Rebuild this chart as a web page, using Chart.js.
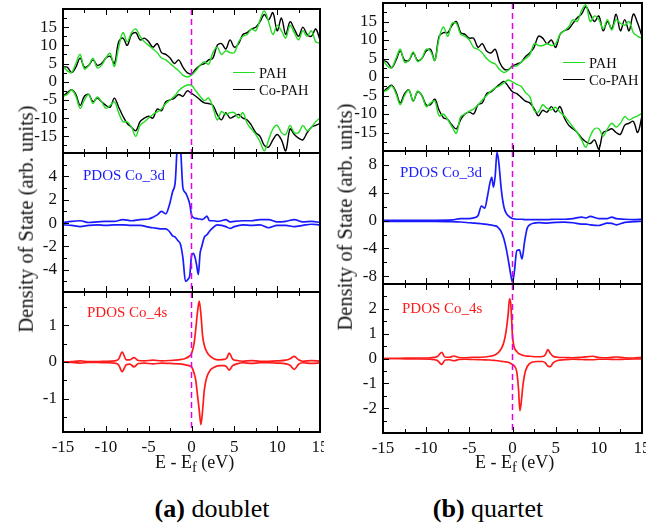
<!DOCTYPE html>
<html>
<head>
<meta charset="utf-8">
<script src="https://cdn.jsdelivr.net/npm/chart.js@4.4.0/dist/chart.umd.min.js"></script>
<style>
body { margin: 0; background: #fff; width: 661px; height: 529px; position: relative; overflow: hidden; font-family: 'Liberation Serif', 'Times New Roman', serif; }
canvas { position: absolute; }
.t { position: absolute; white-space: nowrap; line-height: 1; transform: translateY(-50%); color: #111; }
.rot { position: absolute; white-space: nowrap; line-height: 1; font-size: 20.5px; color: #111; transform: translate(-50%, -50%) rotate(-90deg); }
.ln { position: absolute; height: 0; }
.cap { position: absolute; white-space: nowrap; font-size: 26px; transform: translate(-50%, -50%); color: #000; }
sub { font-size: 0.8em; vertical-align: -0.3em; line-height: 0; }
</style>
</head>
<body>
<canvas id="a1" width="324" height="148" style="left:0;top:7px"></canvas>
<canvas id="a2" width="324" height="143" style="left:0;top:151px"></canvas>
<canvas id="a3" width="324" height="166" style="left:0;top:290px"></canvas>
<canvas id="b1" width="326" height="152" style="left:320px;top:1px"></canvas>
<canvas id="b2" width="326" height="137" style="left:320px;top:149px"></canvas>
<canvas id="b3" width="326" height="175" style="left:320px;top:282px"></canvas>

<div class="rot" style="left:26px;top:219px">Density of State (arb. units)</div>
<div class="rot" style="left:345px;top:217px">Density of State (arb. units)</div>

<div class="ln" style="left:233px;top:72px;width:22px;border-top:1.5px solid #22dd22"></div>
<div class="t" style="left:259px;top:73px;font-size:14.5px">PAH</div>
<div class="ln" style="left:233px;top:89px;width:22px;border-top:1.5px solid #000"></div>
<div class="t" style="left:259px;top:90px;font-size:14.5px">Co-PAH</div>
<div class="ln" style="left:563px;top:62px;width:22px;border-top:1.5px solid #22dd22"></div>
<div class="t" style="left:589px;top:63px;font-size:14.5px">PAH</div>
<div class="ln" style="left:563px;top:79px;width:22px;border-top:1.5px solid #000"></div>
<div class="t" style="left:589px;top:80px;font-size:14.5px">Co-PAH</div>

<div class="t" style="left:83px;top:175px;font-size:15px;color:#1a1aff">PDOS Co_3d</div>
<div class="t" style="left:400px;top:172px;font-size:15px;color:#1a1aff">PDOS Co_3d</div>
<div class="t" style="left:87px;top:312px;font-size:15px;color:#ff1a1a">PDOS Co_4s</div>
<div class="t" style="left:402px;top:308px;font-size:15px;color:#ff1a1a">PDOS Co_4s</div>

<div class="t" style="left:155px;top:462px;font-size:18px">E - E<sub>f</sub> (eV)</div>
<div class="t" style="left:475px;top:462px;font-size:18px">E - E<sub>f</sub> (eV)</div>

<div class="cap" style="left:212px;top:509px"><b>(a)</b> doublet</div>
<div class="cap" style="left:488px;top:509px"><b>(b)</b> quartet</div>

<script>
// energy axis (eV)
const xTicks = [-15, -10, -5, 0, 5, 10, 15];

// total DOS grid
const eTot = [-15,-14.5,-14,-13.5,-13,-12.5,-12,-11.5,-11,-10.5,-10,-9.5,-9,-8.5,-8,-7.5,-7,-6.5,-6,-5.5,-5,-4.5,-4,-3.5,-3,-2.5,-2,-1.5,-1,-0.5,0,0.5,1,1.5,2,2.5,3,3.5,4,4.5,5,5.5,6,6.5,7,7.5,8,8.5,9,9.5,10,10.5,11,11.5,12,12.5,13,13.5,14,14.5,15];

// (a) doublet - total DOS
const pahUpA = [4.2,3.0,2.5,5,7.5,3.5,4.5,6.5,3.8,4.5,6.5,7.8,4.2,9.5,13.5,11,13.5,14.5,12.5,11,10,9,8,6.5,6.0,5,4,3,1.8,1.3,1.8,3,4.5,5.5,4.8,8,9.5,7.5,8.5,8,8,11,12.5,13,14.5,14,17,19.5,16.5,13,15.5,14,12,15.5,13.5,11.5,14,12.5,14,11,10.6];
const coUpA = [4,4,2.5,4,6.5,4,4.5,6,4.5,5,6.5,7,5,11,12,10,13,13.5,11.5,12,11,9.5,10.5,8,7.5,6.5,5,6,4,2.5,2.2,3.5,4.5,5,6,6.5,10,10.5,9,11.5,9.5,10.5,13,13.5,14.5,15,16.5,18.5,17,19,14,17.5,13,16.5,14.5,12.5,15,13,12.5,14.5,11.5];
const pahDnA = [-4,-3.5,-2.2,-4,-7.3,-5,-3.5,-6,-4.2,-5.5,-7.3,-6.5,-5.5,-8.5,-11,-11,-12.5,-15,-12,-11,-10,-9,-8.3,-7.5,-6,-5,-4,-2.5,-1.5,-0.9,-1,-2.5,-4,-5.2,-4.5,-7,-10.5,-8.2,-9,-8.5,-8.5,-10,-8.5,-11.5,-13,-14.5,-16.5,-19,-16,-13,-12,-14,-14.5,-12,-14,-14,-12,-13.5,-12.5,-11,-10];
const coDnA = [-4,-3,-2.2,-3.5,-6.5,-4,-3.5,-5.5,-4.5,-5.5,-6.5,-7,-4.5,-7,-9.5,-11.5,-12.5,-13.5,-11,-10,-9.5,-10,-7.5,-8,-5.5,-5,-4.5,-3.5,-4,-2.5,-3.2,-4,-5,-5.8,-6,-6.5,-9,-10.5,-8.5,-10,-9.5,-9,-10,-10.5,-12,-14,-15,-17.5,-18,-16,-14.5,-16,-19,-13,-14.5,-15.5,-16,-14,-12.5,-12,-11.5];

// (b) quartet - total DOS
const pahUpB = [4.6,3,2.5,5,7.5,4,4.5,6.8,4.2,5,7.5,7,4.5,10.5,13.5,11,14.5,14.5,11.5,11,10,8,7.5,6.5,5,4,3.5,2,1.2,1.8,2.8,3,4,5,6,9,8.5,8.5,9,8.5,9,11.5,12.5,13.5,15.5,15,18,19.5,15,16.5,15.5,13,15.5,12.7,15.5,14.5,14,15,12,11,10.5];
const coUpB = [4.5,4,2.5,4.5,7,4.5,4.5,6.5,4.5,5,7,7.5,4.5,11,12,12,14,15,12,11.5,10.5,10.5,8,9,7,6.5,7.5,4,2.2,2,3,3.5,4,5.5,6.5,8,11,10.5,9,10,8,11.5,12.5,13,14.5,16,17,19,17,15,16.5,12.5,15,13,17,12.5,15.5,12.5,17,14.5,11];
const pahDnB = [-4,-3.5,-2.4,-4.5,-7.5,-5,-3.5,-6.6,-3.8,-5,-8,-7,-6.5,-10.5,-10,-11.5,-13.5,-15.2,-10.7,-10,-9.2,-8.7,-7.5,-6.2,-5,-3.8,-3,-2.4,-1.6,-0.8,-1.3,-2,-2.5,-4.2,-5.3,-9,-9.5,-7.5,-8.5,-8.9,-8.2,-9.5,-10.5,-12,-13.5,-15,-17,-19,-16,-14,-14,-16,-14,-12.5,-13.5,-12.5,-10.7,-11.6,-11,-10.5,-9.8];
const coDnB = [-4,-3,-2.2,-4,-7,-4.5,-3.5,-6.5,-4,-5,-7.5,-7.5,-6,-9,-11,-11.5,-13,-14,-11.5,-10,-9.5,-10,-7.5,-7,-4.5,-4,-3,-2,-1.2,-2.5,-4,-4.5,-5.5,-6.5,-7,-8.5,-10.5,-9,-9.5,-8,-9.5,-8,-11,-13,-14,-15,-16.5,-17.5,-18,-17,-19.5,-15,-14.5,-14,-15,-15.5,-13,-12.5,-12,-15,-10.5];

// (a) doublet - Co 3d
const eA3d = [-15,-14,-13,-12,-11,-10,-9,-8,-7,-6,-5,-4.5,-4,-3.5,-3,-2.6,-2.2,-1.9,-1.6,-1.3,-1,-0.7,-0.4,-0.2,0,0.2,0.4,0.6,0.8,1,1.2,1.5,1.8,2.1,2.5,3,3.5,4,4.5,5,6,7,8,9,10,11,12,13,14,15];
const up3dA = [0.05,0.15,0.2,0.05,0.1,0.15,0.15,0.3,0.2,0.3,0.35,0.5,0.7,1.0,0.8,1.5,2.7,3.5,7.0,6.5,3.0,2.6,2.1,1.6,0.7,0.5,0.4,0.4,0.35,0.35,0.3,0.4,0.6,0.2,0.2,0.15,0.2,0.3,0.1,0.15,0.2,0.2,0.3,0.3,0.1,0.15,0.3,0.1,0.15,0.05];
const dn3dA = [-0.15,-0.2,-0.3,-0.2,-0.15,-0.2,-0.15,-0.15,-0.2,-0.2,-0.35,-0.4,-0.45,-0.5,-0.5,-0.7,-1.1,-1.2,-1.5,-1.8,-3.0,-5.0,-4.8,-4.5,-2.8,-2.6,-2.9,-3.6,-4.4,-2.6,-2.0,-1.2,-1.0,-0.7,-0.4,-0.15,-0.2,-0.3,-0.45,-0.3,-0.15,-0.2,-0.15,-0.4,-0.2,-0.2,-0.3,-0.2,-0.1,-0.15];

// (b) quartet - Co 3d
const eB3d = [-15,-13,-11,-9,-7,-6,-5,-4.5,-4,-3.6,-3.2,-2.9,-2.6,-2.4,-2.2,-2.0,-1.8,-1.6,-1.3,-1,-0.7,-0.4,-0.2,0,0.2,0.5,0.8,1.1,1.4,1.7,2,2.5,3,4,5,6,7,8,8.5,9,10,11,11.5,12,13,14,15];
const up3dB = [0.05,0.05,0.05,0.05,0.1,0.3,0.3,0.4,0.7,2.1,1.8,3.5,5.5,6.2,4.8,6.5,9.8,8.5,4.5,2.0,1.0,0.6,0.4,0.3,0.25,0.2,0.2,0.2,0.15,0.15,0.15,0.15,0.15,0.15,0.2,0.2,0.3,0.5,0.4,0.6,0.3,0.3,0.5,0.3,0.2,0.15,0.2];
const dn3dB = [-0.1,-0.1,-0.1,-0.1,-0.15,-0.2,-0.3,-0.35,-0.4,-0.45,-0.5,-0.55,-0.6,-0.65,-0.7,-0.75,-0.85,-1.1,-1.6,-2.6,-4.2,-6.3,-7.8,-8.8,-7.5,-4.3,-4.2,-5.5,-3.0,-1.1,-0.6,-0.35,-0.3,-0.35,-0.25,-0.2,-0.3,-0.5,-0.5,-0.6,-0.7,-0.35,-0.4,-0.6,-0.25,-0.15,-0.1];

// (a) doublet - Co 4s
const eA4s = [-15,-14,-13,-12,-11,-10,-9,-8.5,-8.1,-7.6,-7.2,-6.7,-6.2,-5.5,-4.5,-3.5,-2.5,-1.5,-0.8,-0.3,0,0.3,0.5,0.7,0.9,1.1,1.3,1.5,1.8,2.2,2.6,3.2,3.8,4.1,4.4,4.8,5.3,6,7,8,9,10,11,11.5,12,12.5,13,14,15];
const up4sA = [0,0.01,0.03,0.01,0.01,0.02,0.03,0.08,0.27,0.06,0.06,0.12,0.04,0.03,0.05,0.03,0.04,0.06,0.09,0.15,0.23,0.5,0.9,1.35,1.65,1.3,0.7,0.45,0.27,0.15,0.09,0.06,0.07,0.1,0.24,0.08,0.04,0.02,0.04,0.02,0.02,0.03,0.05,0.09,0.15,0.06,0.02,0.04,0.02];
const dn4sA = [0,-0.01,-0.03,-0.01,-0.01,-0.02,-0.03,-0.08,-0.26,-0.07,-0.06,-0.13,-0.04,-0.03,-0.05,-0.03,-0.04,-0.05,-0.07,-0.1,-0.13,-0.3,-0.5,-0.9,-1.3,-1.7,-1.3,-0.75,-0.4,-0.22,-0.15,-0.1,-0.1,-0.13,-0.22,-0.1,-0.05,-0.02,-0.04,-0.02,-0.02,-0.03,-0.05,-0.09,-0.2,-0.06,-0.02,-0.04,-0.02];

// (b) quartet - Co 4s
const eB4s = [-15,-13,-11,-9.5,-8.7,-8.2,-7.8,-7.3,-6.8,-6.2,-5.5,-4.6,-3.6,-2.6,-2,-1.5,-1.1,-0.9,-0.7,-0.5,-0.35,-0.2,0,0.2,0.5,0.7,0.85,1.0,1.2,1.5,2,2.8,3.5,3.8,4.1,4.4,4.7,5.2,6,7,8,9.3,10,11,12,13,14,15];
const up4sB = [0,0.01,0.02,0.03,0.08,0.25,0.05,0.05,0.1,0.04,0.03,0.05,0.05,0.09,0.15,0.29,0.55,0.8,1.2,1.8,2.4,2.2,0.9,0.45,0.28,0.2,0.18,0.15,0.13,0.1,0.09,0.07,0.08,0.15,0.36,0.2,0.09,0.05,0.04,0.03,0.05,0.09,0.04,0.03,0.06,0.03,0.02,0.05];
const dn4sB = [0,-0.01,-0.02,-0.03,-0.08,-0.24,-0.06,-0.05,-0.09,-0.04,-0.03,-0.04,-0.05,-0.06,-0.08,-0.1,-0.12,-0.13,-0.14,-0.15,-0.17,-0.2,-0.24,-0.3,-0.55,-1.25,-2.1,-1.8,-1.1,-0.5,-0.2,-0.12,-0.12,-0.18,-0.3,-0.33,-0.18,-0.08,-0.05,-0.03,-0.04,-0.05,-0.03,-0.03,-0.04,-0.03,-0.02,-0.02];

// y tick labels per panel
const yTicksTot = [-15, -10, -5, 0, 5, 10, 15];
const yTicks3dA = [-4, -2, 0, 2, 4];
const yTicks3dB = [-8, -4, 0, 4, 8];
const yTicks4sA = [-1, 0, 1];
const yTicks4sB = [-2, -1, 0, 1, 2];

const GREEN = '#22dd22', BLUE = '#1a1aff', RED = '#ff1a1a';
const tickFont = { family: "'Liberation Serif', serif", size: 17 };

const pts = (xs, ys) => xs.map((x, i) => ({ x: x, y: ys[i] }));

// frame, inward ticks and dashed Fermi line
const panelDecor = {
    id: 'panelDecor',
    afterDatasetsDraw(chart, args, opts) {
        const ctx = chart.ctx;
        const a = chart.chartArea;
        const xs = chart.scales.x, ys = chart.scales.y;
        ctx.save();

        const x0 = xs.getPixelForValue(0);
        ctx.strokeStyle = 'rgb(230,0,230)';
        ctx.lineWidth = 1.5;
        ctx.setLineDash([6, 4]);
        ctx.beginPath();
        ctx.moveTo(x0, a.top);
        ctx.lineTo(x0, a.bottom);
        ctx.stroke();
        ctx.setLineDash([]);

        ctx.strokeStyle = '#000';
        ctx.lineWidth = 1;
        const isMajor = (list, v) => list.some(m => Math.abs(m - v) < 1e-6);
        for (let v = -15; v <= 15 + 1e-9; v += 2.5) {
            const px = Math.round(xs.getPixelForValue(v)) + 0.5;
            const len = isMajor(xTicks, v) ? 6 : 4;
            ctx.beginPath();
            ctx.moveTo(px, a.bottom); ctx.lineTo(px, a.bottom - len);
            ctx.moveTo(px, a.top); ctx.lineTo(px, a.top + len);
            ctx.stroke();
        }
        const st = opts.minor;
        for (let v = Math.ceil(ys.min / st) * st; v <= ys.max + 1e-9; v += st) {
            const py = Math.round(ys.getPixelForValue(v)) + 0.5;
            const len = isMajor(opts.major, v) ? 6 : 4;
            ctx.beginPath();
            ctx.moveTo(a.left, py); ctx.lineTo(a.left + len, py);
            ctx.stroke();
        }

        ctx.lineWidth = 2;
        ctx.strokeRect(a.left, a.top, a.right - a.left, a.bottom - a.top);
        ctx.restore();
    }
};

function makePanel(id, sets, yMin, yMax, yMajor, yMinor, showX, smooth) {
    new Chart(document.getElementById(id), {
        type: 'line',
        data: {
            datasets: sets.map(s => ({
                data: pts(s[0], s[1]),
                borderColor: s[2],
                borderWidth: smooth ? 1.4 : 1.7,
                pointRadius: 0,
                fill: false,
                tension: smooth ? 0.35 : 0,
                cubicInterpolationMode: smooth ? 'default' : 'monotone'
            }))
        },
        options: {
            responsive: false,
            animation: false,
            events: [],
            layout: { padding: { top: 2, right: 4, bottom: 2, left: 0 } },
            plugins: {
                legend: { display: false },
                tooltip: { enabled: false },
                panelDecor: { major: yMajor, minor: yMinor }
            },
            scales: {
                x: {
                    type: 'linear',
                    min: -15,
                    max: 15,
                    display: showX,
                    afterBuildTicks: s => { s.ticks = xTicks.map(v => ({ value: v })); },
                    afterFit: s => {
                        if (showX) s.height = 22;
                        s.paddingLeft = 0;
                        s.paddingRight = 0;
                    },
                    grid: { display: false, drawTicks: false },
                    border: { display: false },
                    ticks: { font: tickFont, color: '#111', padding: 5, maxRotation: 0, autoSkip: false }
                },
                y: {
                    type: 'linear',
                    min: yMin,
                    max: yMax,
                    afterBuildTicks: s => { s.ticks = yMajor.map(v => ({ value: v })); },
                    afterFit: s => {
                        s.width = 63;
                        s.paddingTop = 0;
                        s.paddingBottom = 0;
                    },
                    grid: { display: false, drawTicks: false },
                    border: { display: false },
                    ticks: { font: tickFont, color: '#111', padding: 6, autoSkip: false }
                }
            }
        },
        plugins: [panelDecor]
    });
}

makePanel('a1', [[eTot, pahUpA, GREEN], [eTot, pahDnA, GREEN], [eTot, coUpA, '#000'], [eTot, coDnA, '#000']],
    -19.6, 20, yTicksTot, 2.5, false, true);
makePanel('a2', [[eA3d, up3dA, BLUE], [eA3d, dn3dA, BLUE]], -5.9, 6, yTicks3dA, 1, false, false);
makePanel('a3', [[eA4s, up4sA, RED], [eA4s, dn4sA, RED]], -1.9, 1.9, yTicks4sA, 0.5, true, false);

makePanel('b1', [[eTot, pahUpB, GREEN], [eTot, pahDnB, GREEN], [eTot, coUpB, '#000'], [eTot, coDnB, '#000']],
    -20, 20, yTicksTot, 2.5, false, true);
makePanel('b2', [[eB3d, up3dB, BLUE], [eB3d, dn3dB, BLUE]], -9.1, 10, yTicks3dB, 2, false, false);
makePanel('b3', [[eB4s, up4sB, RED], [eB4s, dn4sB, RED]], -3, 3, yTicks4sB, 0.5, true, false);
</script>
</body>
</html>
